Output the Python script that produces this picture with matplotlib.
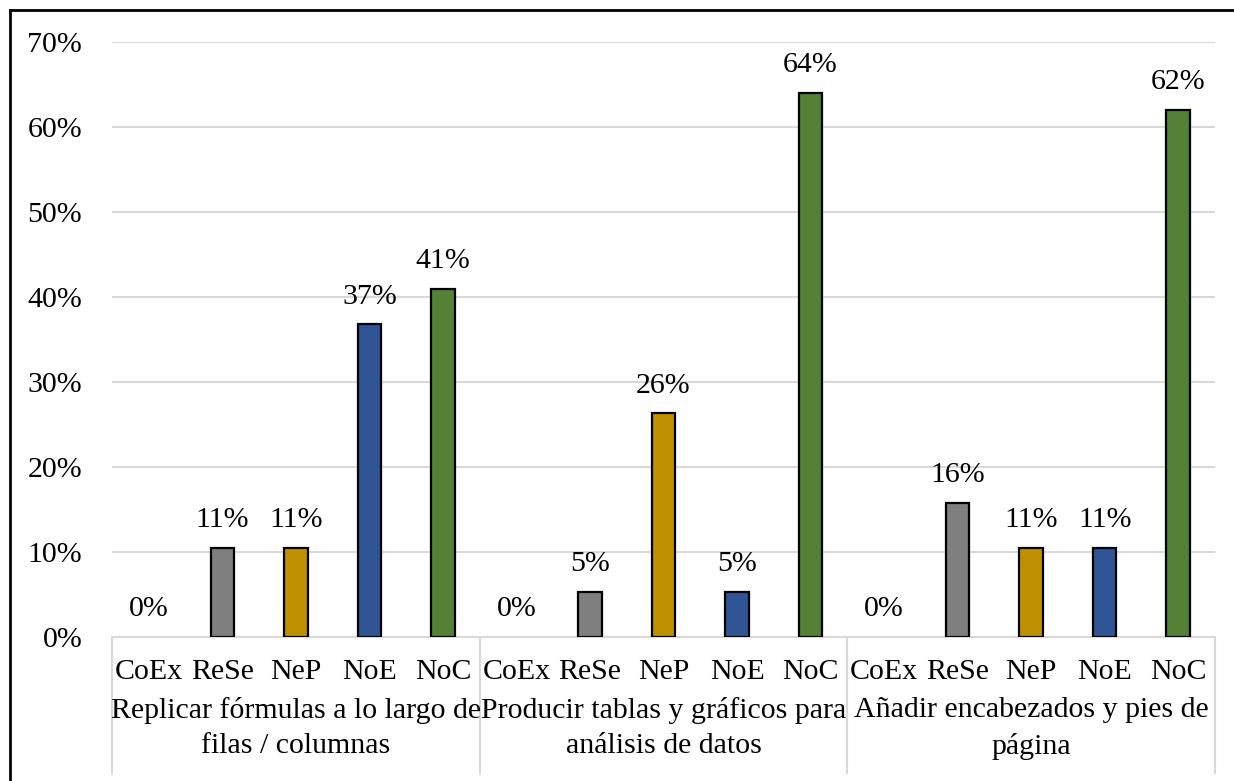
import math
import matplotlib
matplotlib.use("Agg")
import matplotlib.pyplot as plt
from matplotlib.lines import Line2D

# ---- data ----
groups = ["Replicar fórmulas a lo largo de\nfilas / columnas",
          "Producir tablas y gráficos para\nanálisis de datos",
          "Añadir encabezados y pies de\npágina"]
categories = ["CoEx", "ReSe", "NeP", "NoE", "NoC"]
replicar = [0.0, 10.5, 10.5, 36.8, 41.0]
producir = [0.0, 5.3, 26.3, 5.3, 64.0]
anadir = [0.0, 15.8, 10.5, 10.5, 62.0]
colors = ["#7F7F7F", "#7F7F7F", "#BF9000", "#2F5597", "#538135"]
yticks = [0, 10, 20, 30, 40, 50, 60, 70]

series = [replicar, producir, anadir]

plt.rcParams['font.family'] = ['Liberation Serif', 'DejaVu Serif']
FS = 21.5

W, H = 1234, 781
fig = plt.figure(figsize=(W / 100, H / 100), dpi=100)
L, R, B, T = 112, 1215, 637, 42
ax = fig.add_axes([L / W, 1 - B / H, (R - L) / W, (B - T) / H])

ncat = len(categories)
xpos = []
vals = []
cols = []
for g, s in enumerate(series):
    for i, v in enumerate(s):
        xpos.append(g * ncat + i)
        vals.append(v)
        cols.append(colors[i])

lws = [1.6 if v > 0 else 0 for v in vals]
ax.bar(xpos, vals, width=0.32, color=cols, edgecolor="black",
       linewidth=lws, zorder=3)
for x, v in zip(xpos, vals):
    ax.annotate(f"{math.floor(v + 0.5)}%", (x, v), xytext=(0, 10.5),
                textcoords="offset points", ha="center", va="bottom",
                fontsize=FS, zorder=4)

ax.set_xlim(-0.5, len(xpos) - 0.5)
ax.set_ylim(0, 70)
ax.set_yticks(yticks)
ax.set_yticklabels([f"{t}%" for t in yticks], fontsize=FS)
ax.tick_params(axis="y", length=0, pad=21.5)
ax.yaxis.grid(True, color="#D9D9D9", linewidth=1.5, zorder=0)
ax.set_axisbelow(True)
for sp in ["top", "right", "left"]:
    ax.spines[sp].set_visible(False)
ax.spines["bottom"].set_color("#D9D9D9")
ax.spines["bottom"].set_linewidth(1.5)
ax.set_xticks([])

axh = B - T
trans = ax.get_xaxis_transform()
# category labels
for x in xpos:
    ax.text(x, (B - 672) / axh, categories[x % ncat], transform=trans,
            ha="center", va="center", fontsize=FS, clip_on=False)
# group labels
for g, name in enumerate(groups):
    lines = name.split("\n")
    cx = g * ncat + (ncat - 1) / 2
    ax.text(cx, (B - 710) / axh, lines[0], transform=trans,
            ha="center", va="center", fontsize=FS, clip_on=False)
    ax.text(cx, (B - 746) / axh, lines[1], transform=trans,
            ha="center", va="center", fontsize=FS, clip_on=False)
# separators
for g in range(len(groups) + 1):
    xs = g * ncat - 0.5
    ax.plot([xs, xs], [0, (B - 773) / axh], transform=trans, color="#D9D9D9",
            linewidth=1.5, clip_on=False)

# outer frame (top and left)
fig.add_artist(Line2D([10 / W, 1.0], [1 - 10 / H, 1 - 10 / H],
                      transform=fig.transFigure, color="black", linewidth=2))
fig.add_artist(Line2D([10 / W, 10 / W], [0, 1 - 10 / H],
                      transform=fig.transFigure, color="black", linewidth=2))

fig.savefig("out.png", dpi=100)
